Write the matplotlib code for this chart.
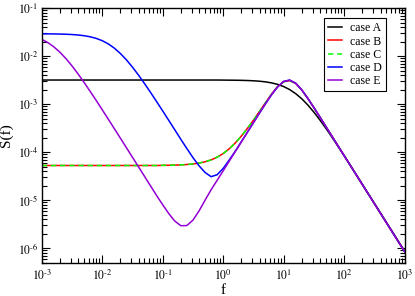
import numpy as np
import matplotlib
matplotlib.use("Agg")
import matplotlib.pyplot as plt
import matplotlib.ticker as tick

plt.rcParams['font.family'] = ['Liberation Serif', 'DejaVu Serif']
plt.rcParams['mathtext.fontset'] = 'stix'

# log10 of frequency, 0.1 decade steps from 1e-3 to 1e3
logf = [-3.0, -2.9, -2.8, -2.7, -2.6, -2.5, -2.4, -2.3, -2.2, -2.1,
        -2.0, -1.9, -1.8, -1.7, -1.6, -1.5, -1.4, -1.3, -1.2, -1.1,
        -1.0, -0.9, -0.8, -0.7, -0.6, -0.5, -0.4, -0.3, -0.2, -0.1,
        0.0, 0.1, 0.2, 0.3, 0.4, 0.5, 0.6, 0.7, 0.8, 0.9,
        1.0, 1.1, 1.2, 1.3, 1.4, 1.5, 1.6, 1.7, 1.8, 1.9,
        2.0, 2.1, 2.2, 2.3, 2.4, 2.5, 2.6, 2.7, 2.8, 2.9, 3.0]

case_a = [3.2e-3] * 30 + [
    3.19e-3, 3.18e-3, 3.17e-3, 3.154e-3, 3.127e-3, 3.087e-3, 3.024e-3, 2.93e-3, 2.79e-3, 2.6e-3,
    2.34e-3, 2.02e-3, 1.66e-3, 1.3e-3, 9.64e-4, 6.84e-4, 4.69e-4, 3.13e-4, 2.05e-4, 1.32e-4,
    8.47e-5, 5.4e-5, 3.43e-5, 2.17e-5, 1.37e-5, 8.68e-6, 5.48e-6, 3.46e-6, 2.19e-6, 1.38e-6, 8.7e-7]

case_b = [5.3e-5] * 20 + [
    5.34e-5, 5.36e-5, 5.4e-5, 5.46e-5, 5.56e-5, 5.71e-5, 5.95e-5, 6.33e-5, 6.93e-5, 7.89e-5,
    9.4e-5, 1.18e-4, 1.56e-4, 2.17e-4, 3.13e-4, 4.65e-4, 7.06e-4, 1.08e-3, 1.63e-3, 2.33e-3,
    2.95e-3, 3.1e-3, 2.72e-3, 1.98e-3, 1.32e-3, 8.5e-4, 5.4e-4, 3.4e-4, 2.145e-4, 1.351e-4,
    8.52e-5, 5.37e-5, 3.384e-5, 2.135e-5, 1.347e-5, 8.5e-6, 5.36e-6, 3.384e-6, 2.135e-6, 1.347e-6, 8.5e-7]

case_c = list(case_b)

case_d = [
    2.94e-2, 2.932e-2, 2.922e-2, 2.905e-2, 2.879e-2, 2.839e-2, 2.777e-2, 2.684e-2, 2.55e-2, 2.362e-2,
    2.115e-2, 1.814e-2, 1.48e-2, 1.146e-2, 8.44e-3, 5.95e-3, 4.06e-3, 2.698e-3, 1.762e-3, 1.137e-3,
    7.28e-4, 4.63e-4, 2.94e-4, 1.862e-4, 1.195e-4, 7.75e-5, 5.25e-5, 3.8e-5, 3.1e-5, 3.4e-5,
    4.6e-5, 6.9e-5, 1.05e-4, 1.66e-4, 2.61e-4, 4.125e-4, 6.53e-4, 1.027e-3, 1.581e-3, 2.305e-3,
    2.99e-3, 3.19e-3, 2.735e-3, 1.99e-3, 1.326e-3, 8.52e-4, 5.4e-4, 3.4e-4, 2.145e-4, 1.351e-4,
    8.52e-5, 5.37e-5, 3.384e-5, 2.135e-5, 1.347e-5, 8.5e-6, 5.36e-6, 3.384e-6, 2.135e-6, 1.347e-6, 8.5e-7]

case_e = [
    2.257e-2, 1.934e-2, 1.576e-2, 1.219e-2, 8.97e-3, 6.32e-3, 4.305e-3, 2.86e-3, 1.867e-3, 1.204e-3,
    7.71e-4, 4.907e-4, 3.114e-4, 1.972e-4, 1.247e-4, 7.88e-5, 4.98e-5, 3.145e-5, 1.984e-5, 1.252e-5,
    8.07e-6, 5.29e-6, 3.69e-6, 2.95e-6, 2.97e-6, 3.85e-6, 5.95e-6, 1.0e-5, 1.65e-5, 2.6e-5,
    4.1e-5, 6.51e-5, 1.032e-4, 1.638e-4, 2.6e-4, 4.125e-4, 6.53e-4, 1.027e-3, 1.581e-3, 2.305e-3,
    2.99e-3, 3.19e-3, 2.735e-3, 1.99e-3, 1.326e-3, 8.52e-4, 5.4e-4, 3.4e-4, 2.145e-4, 1.351e-4,
    8.52e-5, 5.37e-5, 3.384e-5, 2.135e-5, 1.347e-5, 8.5e-6, 5.36e-6, 3.384e-6, 2.135e-6, 1.347e-6, 8.5e-7]

f = 10.0 ** np.array(logf)

fig = plt.figure(figsize=(4.15, 2.96), dpi=100)
ax = fig.add_axes([0.1005, 0.1125, 0.8745, 0.8595])

ax.plot(f, case_a, color='black', lw=1.1, label='case A')
ax.plot(f, case_b, color='#ff0000', lw=1.1, label='case B')
ax.plot(f, case_c, color='#00ff00', lw=1.1, ls=(0, (3.5, 2.5)), label='case C')
ax.plot(f, case_d, color='#0000ff', lw=1.1, label='case D')
ax.plot(f, case_e, color='#9400d3', lw=1.1, label='case E')

ax.set_xscale('log')
ax.set_yscale('log')
ax.set_xlim(1e-3, 1e3)
ax.set_ylim(5e-7, 1e-1)


def pow10(v, pos):
    e = int(round(np.log10(v)))
    if e < 0:
        return r'$10^{\text{-}%d}$' % (-e)
    return r'$10^{%d}$' % e


ax.xaxis.set_major_locator(tick.LogLocator(base=10, numticks=20))
ax.yaxis.set_major_locator(tick.LogLocator(base=10, numticks=20))
ax.xaxis.set_major_formatter(tick.FuncFormatter(pow10))
ax.yaxis.set_major_formatter(tick.FuncFormatter(pow10))
ax.xaxis.set_minor_locator(tick.LogLocator(base=10, subs=np.arange(2, 10), numticks=20))
ax.yaxis.set_minor_locator(tick.LogLocator(base=10, subs=np.arange(2, 10), numticks=20))
ax.yaxis.set_minor_formatter(tick.NullFormatter())
ax.xaxis.set_minor_formatter(tick.NullFormatter())

ax.tick_params(which='both', direction='in', top=True, right=True, labelsize=8.5)
ax.tick_params(axis='y', pad=2.5)
ax.tick_params(axis='x', pad=4)
ax.tick_params(which='major', length=6, width=0.8)
ax.tick_params(which='minor', length=3.5, width=0.8)
for s in ax.spines.values():
    s.set_linewidth(1.0)

ax.set_xlabel('f', fontsize=11, labelpad=1)
ax.set_ylabel('S(f)', fontsize=11, labelpad=3)

leg = ax.legend(loc='upper right', bbox_to_anchor=(0.948, 0.961), borderaxespad=0,
                fontsize=8.5, frameon=True, fancybox=False, framealpha=1,
                edgecolor='black', handlelength=1.2, handletextpad=0.65,
                labelspacing=0.1, borderpad=0.35)
leg.get_frame().set_linewidth(0.8)

plt.savefig('out.png', dpi=100)
